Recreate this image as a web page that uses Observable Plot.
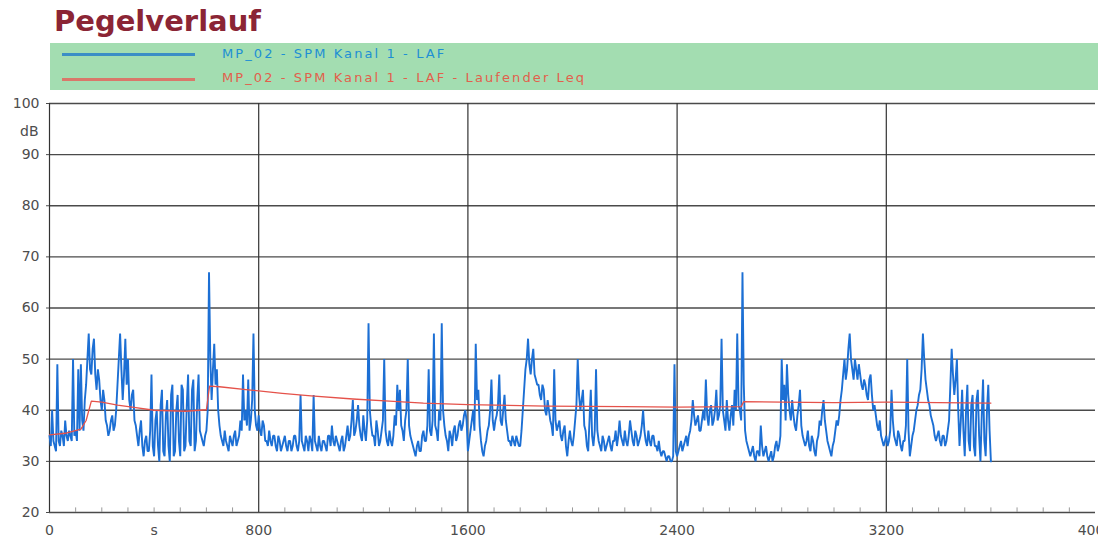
<!DOCTYPE html>
<html><head><meta charset="utf-8">
<script src="https://cdn.jsdelivr.net/npm/d3@7"></script>
<script src="https://cdn.jsdelivr.net/npm/@observablehq/plot@0.6"></script>
<style>
html,body{margin:0;padding:0;background:#fff;width:1098px;height:547px;overflow:hidden;position:relative;}
#title{position:absolute;left:54px;top:7px;font:bold 29px "DejaVu Sans";color:#8b2535;line-height:29px;white-space:nowrap;}
#legend{position:absolute;left:50px;top:43px;width:1048px;height:52px;background:#a3ddb1;}
.lg-line{position:absolute;left:12px;width:133px;height:3px;}
.lg-text{position:absolute;left:172px;font:13px "DejaVu Sans";letter-spacing:2.1px;white-space:nowrap;line-height:14px;}
#chart{position:absolute;left:0;top:90px;}
</style></head><body>
<div id="title">Pegelverlauf</div>
<div id="legend">
 <div class="lg-line" style="top:10px;background:#3b8ec6"></div>
 <div class="lg-text" style="top:4px;color:#1e8fd4">MP_02 - SPM Kanal 1 - LAF</div>
 <div class="lg-line" style="top:35px;background:#d9786a"></div>
 <div class="lg-text" style="top:28px;color:#e2604c">MP_02 - SPM Kanal 1 - LAF - Laufender Leq</div>
</div>
<div id="chart"></div>
<script>
// Sampling step of the LAF series (s)
const tStep = 5;
// MP_02 - SPM Kanal 1 - LAF (dB), one value every 5 s from t = 0 (20 values = 100 s per row)
const laf = [
35,33,40,34,33,32,49,34,33,36,35,33,38,35,34,36,35,34,50,35,
36,34,48,36,49,38,36,42,45,50,55,48,47,52,54,47,44,48,46,42,
40,44,42,38,37,35,36,38,39,36,37,40,45,50,55,48,42,47,54,45,
50,42,40,43,44,38,37,35,33,36,38,33,31,34,35,32,32,36,47,33,
31,38,40,33,30,41,44,32,31,39,42,33,30,43,45,31,32,40,43,34,
31,45,44,32,33,41,47,34,33,44,46,32,34,42,47,36,35,34,33,35,
36,40,67,50,42,48,53,45,48,40,37,35,34,33,36,34,33,32,35,34,
33,35,36,33,34,35,38,36,47,38,40,37,46,36,38,42,55,40,37,36,
39,36,35,38,37,34,34,33,36,34,33,35,35,33,32,35,34,32,33,34,
35,33,32,34,34,32,33,35,35,33,32,34,43,34,33,32,35,34,32,35,
34,32,43,34,33,32,35,33,32,34,34,33,32,35,35,33,37,34,33,35,
34,33,32,34,35,32,33,35,37,34,35,38,42,35,36,38,41,37,35,34,
39,36,34,38,57,40,37,35,35,33,38,36,33,34,36,38,50,36,34,33,
36,34,33,35,39,37,45,40,44,37,36,34,38,40,50,37,35,34,33,32,
31,33,34,32,32,35,36,34,34,37,48,36,35,38,55,37,36,34,40,38,
57,40,37,35,34,32,36,35,33,36,37,34,35,37,38,36,37,39,40,38,
32,34,36,38,40,36,53,42,44,37,34,32,31,33,34,36,37,40,46,38,
36,38,39,41,47,38,37,40,43,38,36,34,34,33,35,34,33,35,34,33,
33,36,40,44,48,50,54,49,47,50,52,47,46,45,45,43,42,45,44,40,
39,42,40,38,37,35,48,38,36,37,38,35,34,36,37,33,31,34,36,34,
33,35,38,41,50,43,40,42,44,37,36,33,32,38,44,35,33,36,48,36,
34,33,32,35,34,32,33,34,35,33,32,34,34,36,33,35,38,35,34,33,
36,34,33,35,38,36,34,33,36,35,33,34,35,37,40,36,34,33,36,34,
33,35,35,33,33,32,34,32,31,32,32,31,30,31,31,30,30,31,49,32,
31,32,33,34,32,33,34,35,33,35,36,38,42,39,37,38,39,36,36,38,
40,38,46,39,37,40,41,37,38,40,44,38,39,41,54,40,38,36,42,38,
36,39,41,37,44,40,55,41,40,38,67,45,36,34,33,32,31,32,33,31,
30,32,32,31,37,33,31,32,33,31,30,31,32,30,31,33,34,32,33,35,
50,42,45,38,49,43,40,38,42,39,37,36,39,41,44,37,35,34,33,34,
36,33,32,35,34,32,31,34,35,38,37,40,42,38,36,34,33,32,31,33,
34,36,38,37,39,42,44,47,50,46,48,52,55,50,48,46,50,48,46,49,
47,45,44,46,45,43,42,46,47,43,40,41,39,37,36,38,35,34,33,34,
35,33,34,36,44,38,35,34,33,36,35,33,32,34,34,37,50,36,31,33,
35,36,38,40,41,43,44,48,55,50,46,44,42,41,39,38,37,35,34,35,
36,34,33,35,35,33,34,36,38,45,52,47,43,46,50,40,33,38,44,36,
31,40,45,34,32,41,43,33,31,42,44,35,30,39,46,34,31,40,45,36,
30
];
// Laufender Leq (dB)
const leqTime  = [0,60,120,140,160,200,260,330,400,520,600,612,650,760,890,1000,1160,1300,1430,1600,1900,2200,2400,2645,2655,2800,3000,3200,3400,3600];
const leqValue = [35.2,35.5,36.3,38,41.8,41.6,41,40.5,40,39.8,40.1,44.7,44.6,44,43.3,42.8,42.2,41.8,41.4,41.1,40.8,40.7,40.6,40.7,41.7,41.6,41.5,41.6,41.5,41.4];

const yTicks = [20,30,40,50,60,70,80,90,100];
const xLabels = [0,400,800,1600,2400,3200,4000];
const xGrid = [0,800,1600,2400,3200];
const xMinor = [100,200,300,400,500,600,700,900,1000,1100,1200,1300,1400,1500,1700,1800,1900,2000,2100,2200,2300,2500,2600,2700,2800,2900,3000,3100,3300,3400,3500,3600,3700,3800,3900];

const lafData = laf.map((v, i) => ({t: i * tStep, v}));
const leqData = leqTime.map((t, i) => ({t, v: leqValue[i]}));

const chart = Plot.plot({
  width: 1098, height: 457,
  marginTop: 13, marginBottom: 35, marginLeft: 49, marginRight: 3,
  x: {domain: [0, 4000]},
  y: {domain: [20, 100]},
  style: {fontFamily: "DejaVu Sans", fontSize: "14px", color: "#4d4d4d", background: "#fff"},
  marks: [
    Plot.ruleY(yTicks, {stroke: "#4a4a4a", strokeWidth: 1.3}),
    Plot.ruleX(xGrid, {stroke: "#333", strokeWidth: 1.2}),
    Plot.ruleX(xMinor, {y1: 20, y2: 20.9, stroke: "#999", strokeWidth: 1}),
    Plot.line(lafData, {x: "t", y: "v", stroke: "#1c6fd4", strokeWidth: 1.9, strokeLinejoin: "miter"}),
    Plot.line(leqData, {x: "t", y: "v", stroke: "#e5524a", strokeWidth: 1.3}),
    Plot.axisY(yTicks, {tickSize: 3, tickPadding: 7, label: null, tickFormat: d => String(d)}),
    Plot.axisX(xLabels, {tickSize: 0, tickPadding: 13, label: null, tickFormat: d => d === 400 ? "s" : String(d)}),
    Plot.text(["dB"], {x: 0, y: 94.6, dx: -11, textAnchor: "end", fill: "#4d4d4d", fontSize: 14})
  ]
});
document.getElementById("chart").appendChild(chart);
</script>
</body></html>
